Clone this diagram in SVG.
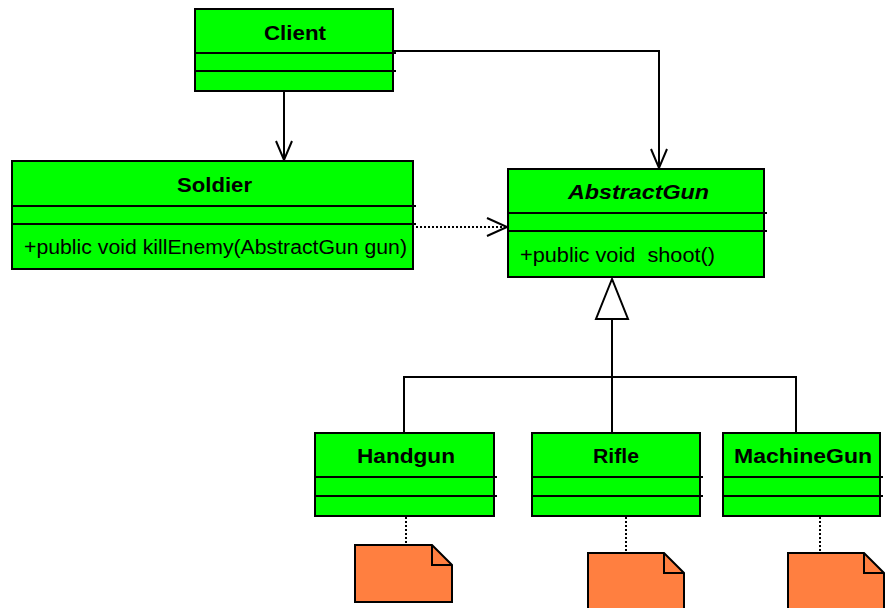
<svg xmlns="http://www.w3.org/2000/svg" width="889" height="608" viewBox="0 0 889 608">
<style>
.box{fill:#00ff00;stroke:#000;stroke-width:2}
.div{stroke:#000;stroke-width:2;fill:none}
.note{fill:#ff7f40;stroke:#000;stroke-width:2;stroke-linejoin:miter}
.ln{stroke:#000;stroke-width:2;fill:none}
.dot{stroke:#000;stroke-width:2;fill:none;stroke-dasharray:2 2}
.t{font-family:"Liberation Sans",Arial,sans-serif;font-size:20px;font-weight:bold;fill:#000}
.ti{font-family:"Liberation Sans",Arial,sans-serif;font-size:20px;font-weight:bold;font-style:italic;fill:#000}
.m{font-family:"Liberation Sans",Arial,sans-serif;font-size:20px;fill:#000;white-space:pre}
</style>
<g id="connectors">
<path class="ln" d="M393,51 H659 V167"/>
<path class="ln" d="M651,149 L659,168 L667,149"/>
<path class="ln" d="M284,91 V159"/>
<path class="ln" d="M276,141 L284,160 L292,141"/>
<path class="dot" d="M416,227 H506"/>
<path class="ln" d="M487,218 L507,227 L487,236"/>
<path class="ln" d="M612,319 V433"/>
<path class="ln" d="M404,433 V377 H796 V433"/>
<polygon points="612,279 596,319 628,319" fill="#fff" stroke="#000" stroke-width="2"/>
<path class="dot" d="M406,517 V545"/>
<path class="dot" d="M626,517 V553"/>
<path class="dot" d="M820,517 V553"/>
</g>
<g id="client">
<rect class="box" x="195" y="9" width="198" height="82"/>
<path class="div" d="M195,53 H396 M195,71 H396"/>
<text class="t" x="264" y="40" textLength="62" lengthAdjust="spacingAndGlyphs">Client</text>
</g>
<g id="soldier">
<rect class="box" x="12" y="161" width="401" height="108"/>
<path class="div" d="M12,206 H416 M12,224 H416"/>
<text class="t" x="177" y="192" textLength="75" lengthAdjust="spacingAndGlyphs">Soldier</text>
<text class="m" x="24" y="254" textLength="383" lengthAdjust="spacingAndGlyphs">+public void killEnemy(AbstractGun gun)</text>
</g>
<g id="abstractgun">
<rect class="box" x="508" y="169" width="256" height="108"/>
<path class="div" d="M508,213 H767 M508,231 H767"/>
<text class="ti" x="568" y="199" textLength="141" lengthAdjust="spacingAndGlyphs">AbstractGun</text>
<text class="m" x="520" y="262" textLength="195" lengthAdjust="spacingAndGlyphs" xml:space="preserve">+public void  shoot()</text>
</g>
<g id="handgun">
<rect class="box" x="315" y="433" width="179" height="83"/>
<path class="div" d="M315,477 H497 M315,496 H497"/>
<text class="t" x="357" y="463" textLength="98" lengthAdjust="spacingAndGlyphs">Handgun</text>
</g>
<g id="rifle">
<rect class="box" x="532" y="433" width="168" height="83"/>
<path class="div" d="M532,477 H703 M532,496 H703"/>
<text class="t" x="593" y="463" textLength="46" lengthAdjust="spacingAndGlyphs">Rifle</text>
</g>
<g id="machinegun">
<rect class="box" x="723" y="433" width="157" height="83"/>
<path class="div" d="M723,477 H883 M723,496 H883"/>
<text class="t" x="734" y="463" textLength="138" lengthAdjust="spacingAndGlyphs">MachineGun</text>
</g>
<g id="note-handgun">
<path class="note" d="M355,545 H432 L452,565 V602 H355 Z"/>
<path class="ln" d="M432,545 V565 H452"/>
</g>
<g id="note-rifle">
<path class="note" d="M588,553 H664 L684,573 V612 H588 Z"/>
<path class="ln" d="M664,553 V573 H684"/>
</g>
<g id="note-machinegun">
<path class="note" d="M788,553 H864 L884,573 V612 H788 Z"/>
<path class="ln" d="M864,553 V573 H884"/>
</g>
</svg>
